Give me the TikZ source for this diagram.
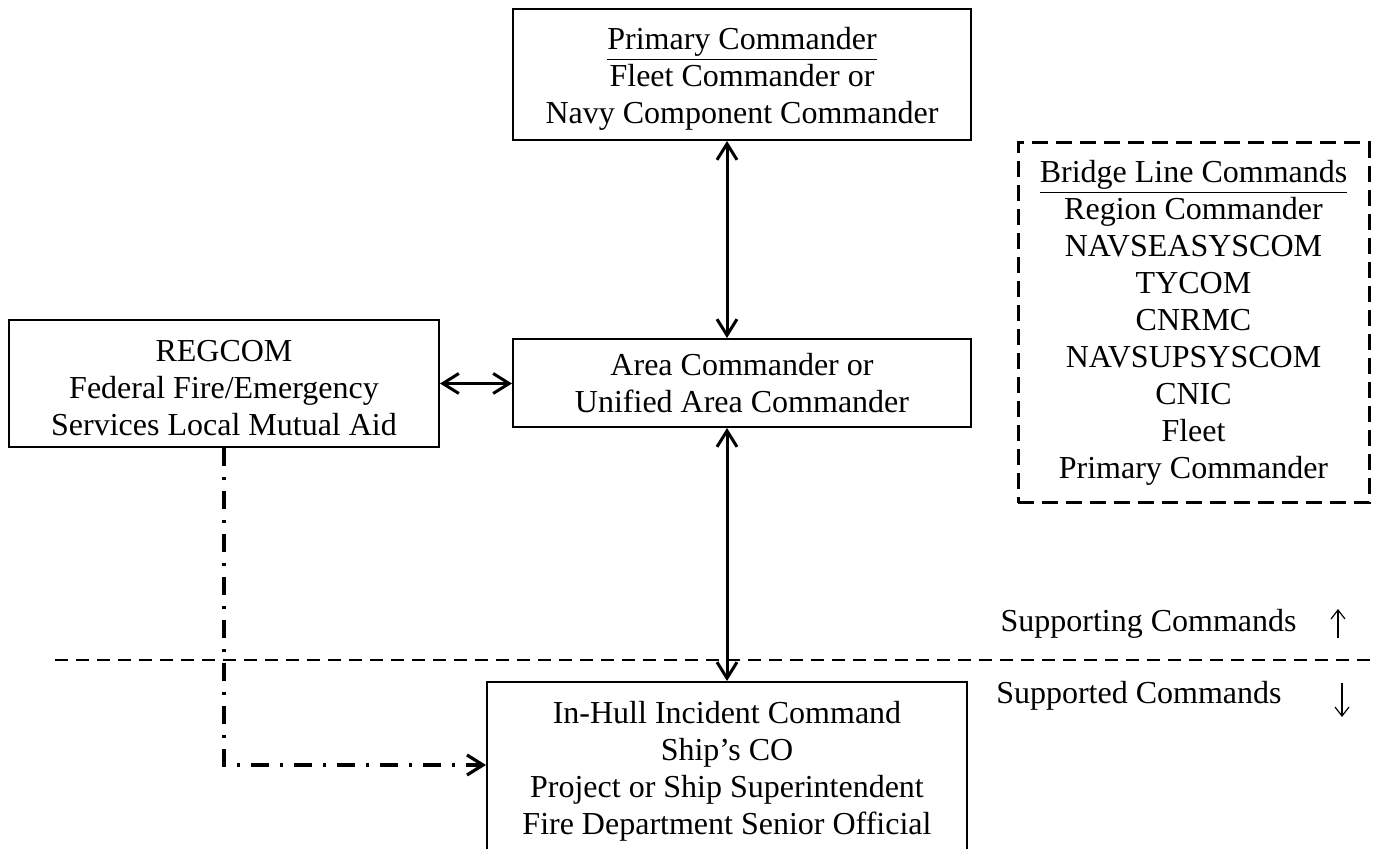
\documentclass[tikz,border=0pt]{standalone}
\usepackage{fontspec}
\setmainfont{Liberation Serif}
\usetikzlibrary{arrows.meta}
\begin{document}
\begin{tikzpicture}[x=0.5pt,y=-0.5pt,
  txt/.style={font=\fontsize{16}{18.5}\selectfont,align=center,inner sep=0pt},
  box/.style={draw,line width=1pt,rectangle,inner sep=0pt},
  dbox/.style={txt,draw,line width=1.5pt,dash pattern=on 8pt off 4pt},
  link/.style={line width=1.5pt,{Straight Barb[length=8pt,width=10pt]}-{Straight Barb[length=8pt,width=10pt]}},
  dashdot/.style={line width=1.6pt,dash pattern=on 9pt off 5.5pt on 1.5pt off 5.5pt,-{Straight Barb[length=8pt,width=10pt]}},
  sep/.style={line width=1pt,dash pattern=on 6.5pt off 4pt},
  small/.style={line width=0.6pt,-{Straight Barb[length=4.5pt,width=7pt]}}]
\useasboundingbox (0,0) rectangle (1377,849);
\clip (0,0) rectangle (1377,849);

% boxes
\node[box,minimum width=229pt,minimum height=65.5pt] (top) at (742,74.5) {};
\node[txt] (toptext) at (742,79)
  {\underline{Primary Commander}\\Fleet Commander or\\Navy Component Commander};
\node[box,minimum width=215pt,minimum height=63.5pt] (regcom) at (224,383.5) {};
\node[txt] (regcomtext) at (224,388)
  {REGCOM\\Federal Fire/Emergency\\Services Local Mutual Aid};
\node[box,minimum width=229pt,minimum height=44pt] (area) at (742,383) {};
\node[txt] (areatext) at (742,383)
  {Area Commander or\\Unified Area Commander};
\node[box,minimum width=240pt,minimum height=109pt] (inhull) at (727,791) {};
\node[txt] (inhulltext) at (727,771)
  {In-Hull Incident Command\\Ship’s CO\\Project or Ship Superintendent\\Fire Department Senior Official};
\node[dbox,minimum width=175.5pt,minimum height=180pt] (bridge) at (1193.5,323)
  {\underline{Bridge Line Commands}\\Region Commander\\NAVSEASYSCOM\\TYCOM\\CNRMC\\NAVSUPSYSCOM\\CNIC\\Fleet\\Primary Commander};

% connectors
\coordinate (axis) at (727,0);
\draw[link] (top.south -| axis) -- (area.north -| axis);
\draw[link] (regcom.east) -- (area.west |- regcom.east);
\draw[link] (area.south -| axis) -- (inhull.north);

\coordinate (corner) at (224,765);
\draw[dashdot] (regcom.south) -- (corner) -- (corner -| inhull.west);

\coordinate (sepL) at (55,660);
\coordinate (sepR) at (1370,660);
\draw[sep] (sepL) -- (sepR);

\node[txt,anchor=east] (supporting) at (1297,624) {Supporting Commands};
\node[txt,anchor=east] (supported) at (1282,696) {Supported Commands};
\coordinate (upA) at (1338,638);
\coordinate (upB) at (1338,609);
\coordinate (dnA) at (1342,683);
\coordinate (dnB) at (1342,717);
\draw[small] (upA) -- (upB);
\draw[small] (dnA) -- (dnB);
\end{tikzpicture}
\end{document}
